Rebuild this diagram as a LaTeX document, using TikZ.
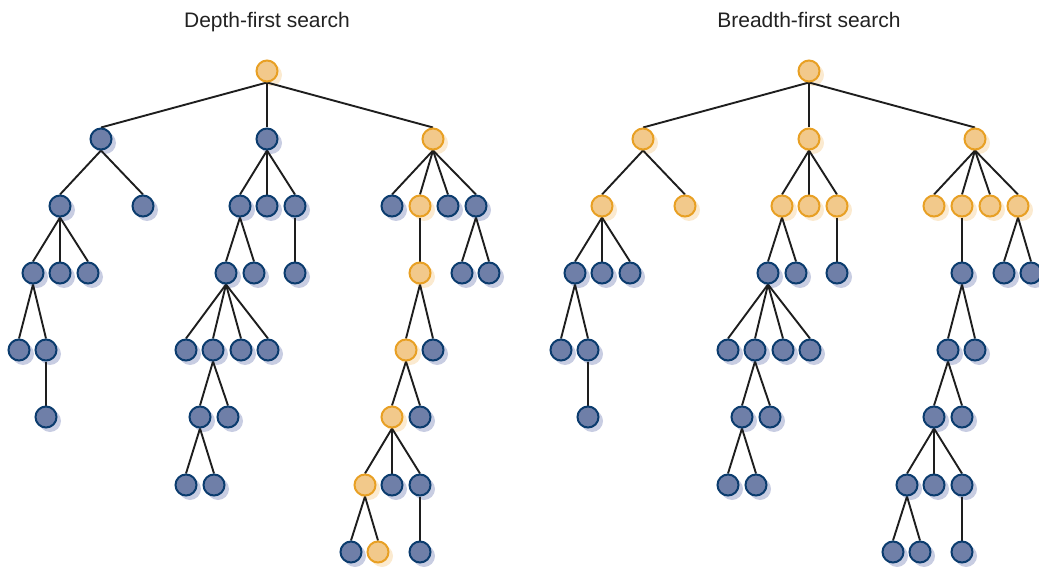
\documentclass[tikz,border=0pt]{standalone}
\usepackage{fontspec}
\setmainfont{Liberation Sans}
\definecolor{ofill}{HTML}{F2C98B}
\definecolor{odraw}{HTML}{E8A024}
\definecolor{bfill}{HTML}{6F7FA8}
\definecolor{bdraw}{HTML}{0B3C6E}
\definecolor{oshad}{HTML}{FBEAD0}
\definecolor{bshad}{HTML}{C8CDE2}
\definecolor{titlecol}{HTML}{222222}
\definecolor{edgecol}{HTML}{1E1E1E}
\pgfdeclarelayer{shad}
\pgfdeclarelayer{edges}
\pgfsetlayers{shad,edges,main}
\tikzset{
  ocirc/.style={circle,minimum size=21pt,inner sep=0pt,line width=2pt,draw=odraw,fill=ofill},
  bcirc/.style={circle,minimum size=21pt,inner sep=0pt,line width=2pt,draw=bdraw,fill=bfill},
  edge/.style={line width=1.9pt,draw=edgecol},
  title/.style={font=\fontsize{21}{25}\selectfont,text=titlecol,anchor=base}
}
\begin{document}
\begin{tikzpicture}[x=1pt,y=-1pt]
\useasboundingbox (0,0) rectangle (1039,567);
\node[title] (t1) at (267,28) {Depth-first search};
\node[title] (t2) at (809,28) {Breadth-first search};
\node[ocirc] (L0) at (267,71) {};
\node[ocirc] (R0) at (809,71) {};
\begin{pgfonlayer}{shad}
\fill[oshad] ([shift={(4,4)}]L0.center) circle (11);
\fill[oshad] ([shift={(4,4)}]R0.center) circle (11);
\end{pgfonlayer}
\foreach \n/\x/\y/\p/\cl/\cr in {
a/101/139/0/b/o,
b/267/139/0/b/o,
c/433/139/0/o/o,
aa/60/206/a/b/o,
ab/143/206/a/b/o,
ba/240/206/b/b/o,
bb/267/206/b/b/o,
bc/295/206/b/b/o,
ca/392/206/c/b/o,
cb/420/206/c/o/o,
cc/448/206/c/b/o,
cd/476/206/c/b/o,
aaa/33/273/aa/b/b,
aab/60/273/aa/b/b,
aac/88/273/aa/b/b,
baa/226/273/ba/b/b,
bab/254/273/ba/b/b,
bca/295/273/bc/b/b,
cba/420/273/cb/o/b,
cda/462/273/cd/b/b,
cdb/489/273/cd/b/b,
aaaa/19/350/aaa/b/b,
aaab/46/350/aaa/b/b,
baaa/186/350/baa/b/b,
baab/213/350/baa/b/b,
baac/241/350/baa/b/b,
baad/268/350/baa/b/b,
cbaa/406/350/cba/o/b,
cbab/433/350/cba/b/b,
aaaba/46/417/aaab/b/b,
baaba/200/417/baab/b/b,
baabb/228/417/baab/b/b,
cbaaa/392/417/cbaa/o/b,
cbaab/420/417/cbaa/b/b,
baabaa/186/485/baaba/b/b,
baabab/214/485/baaba/b/b,
cbaaaa/365/485/cbaaa/o/b,
cbaaab/392/485/cbaaa/b/b,
cbaaac/420/485/cbaaa/b/b,
cbaaaaa/351/552/cbaaaa/b/b,
cbaaaab/378/552/cbaaaa/o/b,
cbaaaca/420/552/cbaaac/b/b}
{
  \node[\cl circ] (L\n) at (\x,\y) {};
  \node[\cr circ] (R\n) at ({\x+542},\y) {};
  \begin{pgfonlayer}{shad}
    \fill[\cl shad] ([shift={(4,4)}]L\n.center) circle (11);
    \fill[\cr shad] ([shift={(4,4)}]R\n.center) circle (11);
  \end{pgfonlayer}
  \begin{pgfonlayer}{edges}
    \draw[edge] (L\p.south) -- (L\n.north);
    \draw[edge] (R\p.south) -- (R\n.north);
  \end{pgfonlayer}
}
\end{tikzpicture}
\end{document}
